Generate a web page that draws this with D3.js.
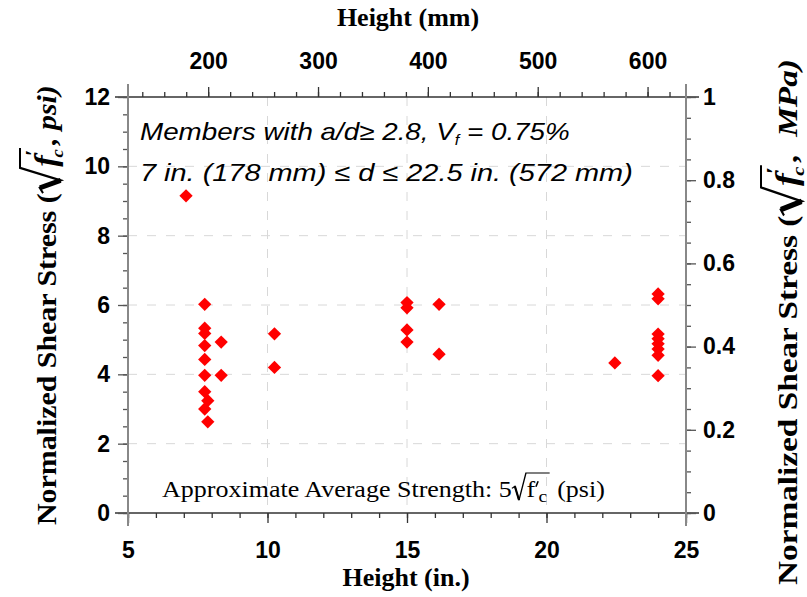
<!DOCTYPE html>
<html>
<head>
<meta charset="utf-8">
<script src="https://cdn.jsdelivr.net/npm/d3@7"></script>
<style>
  html, body { margin: 0; padding: 0; background: #fff; }
  svg { display: block; }
</style>
</head>
<body>
<svg id="chart" width="807" height="597"></svg>
<script>
// Specimen height (in.) and normalized shear stress (sqrt(f'c), psi)
const heightIn = [7.08, 7.75, 7.75, 7.75, 7.75, 7.75, 7.75, 7.75, 7.75, 7.86, 7.86, 8.34, 8.34,
                  10.25, 10.25, 15, 15, 15, 15, 16.15, 16.15, 22.45,
                  24, 24, 24, 24, 24, 24, 24, 24];
const stressPsi = [9.15, 6.02, 5.33, 5.18, 4.83, 4.43, 3.97, 3.50, 3.00, 3.24, 2.63, 4.93, 3.97,
                   5.17, 4.20, 6.07, 5.92, 5.28, 4.93, 6.02, 4.58, 4.33,
                   6.32, 6.18, 5.16, 5.03, 4.88, 4.73, 4.55, 3.96];

const xTicksIn = [5, 10, 15, 20, 25];
const xTicksMm = [200, 300, 400, 500, 600];
const yTicksPsi = [0, 2, 4, 6, 8, 10, 12];
const yTicksMPa = [0, 0.2, 0.4, 0.6, 0.8, 1];

const svg = d3.select("#chart");
const L = 128, R = 686, T = 97, B = 513;
const ext = 13; // axis lines run a little past the frame corners

const x = d3.scaleLinear().domain([5, 25]).range([L, R]);
const xMm = d3.scaleLinear().domain([5 * 25.4, 25 * 25.4]).range([L, R]);
const y = d3.scaleLinear().domain([0, 12]).range([B, T]);
const yMPa = d3.scaleLinear().domain([0, 1]).range([B, T]);

const sans = "'Liberation Sans', Arial, sans-serif";
const serif = "'Liberation Serif', 'Times New Roman', serif";

// Grid lines
const grid = svg.append("g").attr("stroke", "#d8d8d8").attr("stroke-width", 1).attr("stroke-dasharray", "9,10");
[10, 15, 20].forEach(v => grid.append("line").attr("x1", x(v)).attr("x2", x(v)).attr("y1", T).attr("y2", B));
[2, 4, 6, 8, 10].forEach(v => grid.append("line").attr("x1", L).attr("x2", R).attr("y1", y(v)).attr("y2", y(v)));

// Axes
function styleAxis(g, color) {
  g.select(".domain").remove();
  g.selectAll(".tick line").attr("stroke", color).attr("stroke-width", 1.3);
  g.selectAll(".tick text").attr("font-family", sans).attr("font-weight", "bold").attr("font-size", 23).attr("fill", "#000");
}

// bottom
const gB = svg.append("g").attr("transform", `translate(0,${B})`);
gB.append("g").call(d3.axisBottom(x).tickValues(d3.range(5, 25.01, 1)).tickSize(5).tickFormat("")).call(g => styleAxis(g, "#333"));
gB.append("g").call(d3.axisBottom(x).tickValues(xTicksIn).tickSize(10).tickPadding(19).tickFormat(d3.format("d"))).call(g => styleAxis(g, "#333"));
gB.append("line").attr("x1", L - ext).attr("x2", R + ext).attr("stroke", "#333").attr("stroke-width", 1.6);

// top (mm)
const gT = svg.append("g").attr("transform", `translate(0,${T})`);
gT.append("g").call(d3.axisTop(xMm).tickValues(d3.range(140, 635, 20)).tickSize(5).tickFormat("")).call(g => styleAxis(g, "#333"));
gT.append("g").call(d3.axisTop(xMm).tickValues(xTicksMm).tickSize(10).tickPadding(18).tickFormat(d3.format("d"))).call(g => styleAxis(g, "#333"));
gT.append("line").attr("x1", L - ext).attr("x2", R + ext).attr("stroke", "#333").attr("stroke-width", 1.6);

// left (psi)
const gL = svg.append("g").attr("transform", `translate(${L},0)`);
gL.append("g").call(d3.axisLeft(y).tickValues(d3.range(0, 12.01, 0.5)).tickSize(5).tickFormat("")).call(g => styleAxis(g, "#555"));
gL.append("g").call(d3.axisLeft(y).tickValues(yTicksPsi).tickSize(10).tickPadding(8).tickFormat(d3.format("d"))).call(g => styleAxis(g, "#555"));
gL.append("line").attr("y1", T - ext).attr("y2", B + ext).attr("stroke", "#888").attr("stroke-width", 2);

// right (MPa)
const gR = svg.append("g").attr("transform", `translate(${R},0)`);
gR.append("g").call(d3.axisRight(yMPa).tickValues(d3.range(0, 1.001, 0.05)).tickSize(5).tickFormat("")).call(g => styleAxis(g, "#555"));
gR.append("g").call(d3.axisRight(yMPa).tickValues(yTicksMPa).tickSize(10).tickPadding(7).tickFormat(d => d === 0 || d === 1 ? d3.format("d")(d) : d3.format(".1f")(d))).call(g => styleAxis(g, "#555"));
gR.append("line").attr("y1", T - ext).attr("y2", B + ext).attr("stroke", "#888").attr("stroke-width", 2);

// Axis titles (horizontal)
svg.append("text").attr("x", (L + R) / 2 - 1).attr("y", 586).attr("text-anchor", "middle")
  .attr("font-family", serif).attr("font-weight", "bold").attr("font-size", 26).text("Height (in.)");
svg.append("text").attr("x", (L + R) / 2 + 1).attr("y", 26).attr("text-anchor", "middle")
  .attr("font-family", serif).attr("font-weight", "bold").attr("font-size", 26).text("Height (mm)");

// Radical sign: short hook, heavy down-stroke, long up-stroke, overline to barEnd
function radical(g, r0, rw, rh, barEnd, stroke, heavy) {
  g.append("path")
    .attr("d", `M${r0},${-rh * 0.36} L${r0 + rw * 0.2},${-rh * 0.45} L${r0 + rw * 0.48},${rh * 0.13} L${r0 + rw * 0.95},${-rh} L${barEnd},${-rh}`)
    .attr("fill", "none").attr("stroke", "#000").attr("stroke-width", stroke).attr("stroke-linejoin", "miter");
  g.append("path")
    .attr("d", `M${r0 + rw * 0.2},${-rh * 0.45} L${r0 + rw * 0.48},${rh * 0.13}`)
    .attr("stroke", "#000").attr("stroke-width", stroke * heavy);
}

// Axis title: "prefix √(f′c) suffix" in one text run
function sqrtTitle(parent, o) {
  const g = parent.append("g");
  const fs = o.size;
  const t = g.append("text").attr("x", 0).attr("y", 0)
    .attr("font-family", o.family).attr("font-weight", o.weight).attr("font-size", fs)
    .attr("xml:space", "preserve");
  const n = o.prefix.length;
  const pre = t.append("tspan").text(o.prefix);
  const r0 = pre.node().getComputedTextLength();
  const fSpan = t.append("tspan").attr("dx", o.radW).attr("font-style", "italic").attr("font-size", fs * 1.15).text("f");
  const fw = fSpan.node().getComputedTextLength();
  const pSpan = t.append("tspan").attr("font-style", "italic").attr("font-size", fs * 0.8)
    .attr("dx", -fw * 0.1).attr("dy", -fs * 0.6).text("\u2032");
  const pw = pSpan.node().getComputedTextLength();
  t.append("tspan").attr("font-style", "italic").attr("font-size", fs * 0.62)
    .attr("dx", -pw - fw * 0.1).attr("dy", fs * 0.85).text("c");
  const suf = t.append("tspan").attr("font-style", "italic").attr("dy", -fs * 0.25).text(o.suffix);
  const node = t.node();
  const pe = node.getExtentOfChar(n + 1), ce = node.getExtentOfChar(n + 2);
  const barEnd = Math.max(pe.x + pe.width, ce.x + ce.width) + 1;
  suf.attr("dx", barEnd + 3 - node.getEndPositionOfChar(n + 2).x);
  radical(g, r0, o.radW, o.radTop, barEnd, 2, 2.2);
  const width = node.getEndPositionOfChar(node.getNumberOfChars() - 1).x;
  return { g, width };
}

const titleOpts = { prefix: "Normalized Shear Stress (", size: 27, family: serif, weight: "bold", radTop: 36, radW: 24 };
// Left title
{
  const lbl = sqrtTitle(svg, Object.assign({}, titleOpts, { suffix: ", psi)" }));
  const k = 440 / lbl.width;
  lbl.g.attr("transform", `translate(56,${305 + 220}) rotate(-90) scale(${k},1)`);
}
// Right title
{
  const lbl = sqrtTitle(svg, Object.assign({}, titleOpts, { suffix: ",  MPa)" }));
  const k = 526 / lbl.width;
  lbl.g.attr("transform", `translate(797,${322 + 263}) rotate(-90) scale(${k},1)`);
}

// Annotation
const note = svg.append("g").attr("font-family", sans).attr("font-style", "italic").attr("font-size", 24).attr("fill", "#000");
function stretchTo(sel, x0, w) {
  const k = w / sel.node().getBBox().width;
  sel.attr("transform", `translate(${x0},0) scale(${k},1) translate(${-x0},0)`);
}
const l1 = note.append("text").attr("x", 140).attr("y", 140).attr("xml:space", "preserve");
l1.append("tspan").text("Members with a/d\u2265 2.8, V");
l1.append("tspan").attr("font-size", 14).attr("dy", 5).text("f");
l1.append("tspan").attr("dy", -5).text(" = 0.75%");
stretchTo(l1, 140, 430);
const l2 = note.append("text").attr("x", 140).attr("y", 181).attr("xml:space", "preserve")
  .text("7 in. (178 mm) \u2264 d \u2264 22.5 in. (572 mm)");
stretchTo(l2, 140, 493);

// Average strength note: text run with f and subscript c, prime and radical drawn as strokes
{
  const fs = 23;
  const g = svg.append("g");
  const t = g.append("text").attr("x", 0).attr("y", 0).attr("font-family", serif).attr("font-size", fs)
    .attr("xml:space", "preserve");
  const prefix = "Approximate Average Strength: 5";
  const r0 = t.append("tspan").text(prefix).node().getComputedTextLength();
  const rw = 13, rh = 24;
  const fw = t.append("tspan").attr("dx", rw).text("f").node().getComputedTextLength();
  const cSpan = t.append("tspan").attr("dx", 3).attr("dy", fs * 0.22).attr("font-size", fs * 0.75).text("c");
  const cw = cSpan.node().getComputedTextLength();
  const barEnd = r0 + rw + fw + 3 + cw + 2;
  t.append("tspan").attr("dy", -fs * 0.22).attr("dx", 3).text(" (psi)");
  const fEnd = r0 + rw + fw;
  g.append("path").attr("d", `M${fEnd + 2.5},${-fs * 0.68} L${fEnd + 0.5},${-fs * 0.45}`)
    .attr("stroke", "#000").attr("stroke-width", 1.4);
  radical(g, r0, rw, rh, barEnd, 1.2, 1.6);
  const width = t.node().getComputedTextLength() + rw + 6;
  const k = 443 / width;
  g.attr("transform", `translate(162,497) scale(${k},1)`);
}

// Data points
svg.append("g").selectAll("path").data(heightIn.map((h, i) => [h, stressPsi[i]])).join("path")
  .attr("d", d3.symbol(d3.symbolSquare, 88))
  .attr("transform", d => `translate(${x(d[0])},${y(d[1])}) rotate(45)`)
  .attr("fill", "#ff0000");
</script>
</body>
</html>
